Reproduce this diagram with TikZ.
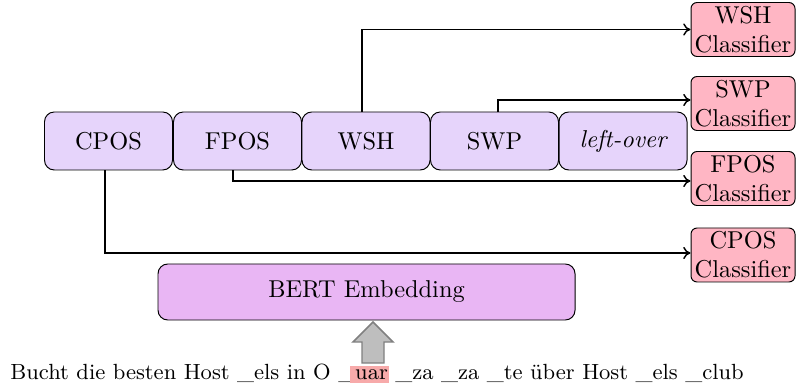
\documentclass[tikz,border=0pt]{standalone}
\usetikzlibrary{arrows.meta}
\definecolor{taskfill}{RGB}{230,212,251}
\definecolor{clsfill}{RGB}{255,182,196}
\definecolor{bertfill}{RGB}{233,182,244}
\definecolor{hlred}{RGB}{247,170,170}
\definecolor{arrowgray}{RGB}{190,190,190}
% highlighted sub-word, padded on the left so it runs into the preceding underscore
\newcommand\hlword[1]{\kern-2pt\relax{\setlength\fboxsep{0pt}\colorbox{hlred}{\rule[-1.6pt]{0pt}{6.9pt}\kern2pt\relax #1\kern0.4pt\relax}}\kern-0.4pt\relax}
\begin{document}
\begin{tikzpicture}[x=0.41pt,y=-0.41pt,
  taskbox/.style={draw, fill=taskfill, rounded corners=4pt, minimum width=128*0.41pt,
    minimum height=58*0.41pt, inner sep=0pt},
  clsbox/.style={draw, fill=clsfill, rounded corners=2.5pt, minimum width=104*0.41pt,
    minimum height=54*0.41pt, inner sep=0.5pt, align=center},
  link/.style={semithick, -{To[length=3pt,width=5pt]}}]
\useasboundingbox (0,0) rectangle (796,391);

% shared task-specific blocks
\node[taskbox] (cpos) at (108.5,141) {CPOS};
\node[taskbox] (fpos) at (237.5,141) {FPOS};
\node[taskbox] (wsh)  at (366,141) {WSH};
\node[taskbox] (swp)  at (494.5,141) {SWP};
\node[taskbox] (left) at (623,141) {\itshape left-over};

% classifier heads
\node[clsbox] (cwsh)  at (743,29.5)  {WSH\\Classifier};
\node[clsbox] (cswp)  at (743,103.5) {SWP\\Classifier};
\node[clsbox] (cfpos) at (743,178.5) {FPOS\\Classifier};
\node[clsbox] (ccpos) at (743,255)   {CPOS\\Classifier};

% encoder
\node[draw, fill=bertfill, rounded corners=4pt, minimum width=417*0.41pt,
  minimum height=56*0.41pt] (bert) at (366.5,292) {BERT Embedding};

% input sentence
\node[inner sep=0pt, anchor=base, font=\fontsize{9}{10}\selectfont] (sent) at (377,379)
  {Bucht die besten Host \_els in O \_\hlword{uar} \_za \_za \_te über Host \_els \_club};

% routes from blocks to classifiers
\draw[link] (wsh.north -| 362,0) |- (cwsh.west);
\draw[link] (swp.north -| 498,0) |- (cswp.west |- 0,100);
\draw[link] (fpos.south -| 233,0) |- (cfpos.west |- 0,181);
\draw[link] (cpos.south -| 105,0) |- (ccpos.west |- 0,253);

% input arrow into the encoder
\draw[draw=gray, fill=arrowgray, semithick]
  (362,363) -- (362,342) -- (353,342) -- (373,322) -- (393,342) -- (384,342) -- (384,363) -- cycle;
\end{tikzpicture}
\end{document}
